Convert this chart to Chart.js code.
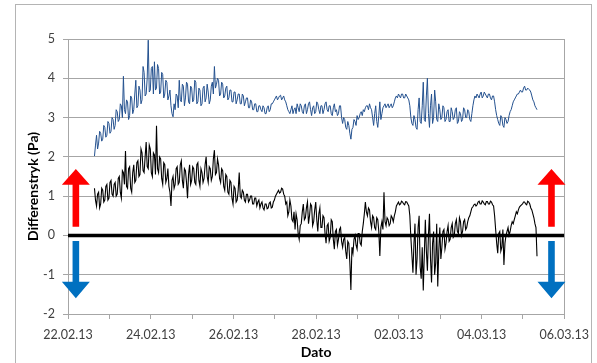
<!DOCTYPE html>
<html>
<head>
<meta charset="utf-8">
<script src="https://cdn.jsdelivr.net/npm/chart.js@4/dist/chart.umd.min.js"></script>
<style>
  html, body { margin: 0; padding: 0; background: #fff; overflow: hidden; }
  #frame { position: absolute; left: 15px; top: 4px; width: 575px; height: 380px; border: 1px solid #b4b4b4; }
  #wrap { position: absolute; left: 0; top: 0; width: 597px; height: 363px; }
</style>
</head>
<body>
<div id="frame"></div>
<div id="wrap"><canvas id="c" width="597" height="363"></canvas></div>
<script>
// Time axis: days since 22.02.13 00:00, regular sampling interval
const xStart = 0.64;
const xStep = 0.025;
const tickLabels = ['22.02.13','24.02.13','26.02.13','28.02.13','02.03.13','04.03.13','06.03.13'];
const xTitle = 'Dato';
const yTitle = 'Differenstryk (Pa)';

// Upper (blue) series values
const blueValues = [
  2.02,2.3, 2.55,2.2, 2.35,2.65, 2.6,2.4, 2.45,2.8, 2.75,2.5, 2.55,2.9, 2.85,2.6, 2.65,3.0, 2.95,2.7,
  2.8,3.2, 3.15,2.9, 2.95,3.35, 3.3,3.0, 4.05,3.2, 3.1,3.45, 3.4,2.95, 3.05,3.55, 3.5,3.1, 3.2,3.6,
  3.95,3.25, 3.3,3.8, 3.7,3.35, 3.45,4.3, 4.15,3.55, 3.6,4.0, 4.97,3.65, 3.7,4.25, 4.3,3.6, 4.42,3.7,
  3.75,4.35, 4.25,3.6, 3.65,4.15, 4.1,3.5, 3.6,3.95, 3.9,3.45, 3.55,3.7, 3.3,3.1, 3.02,3.35, 3.2,3.6,
  3.55,3.25, 3.95,3.45, 3.4,3.85, 3.8,3.3, 3.5,3.9, 3.85,3.4, 3.35,3.8, 3.75,3.4, 3.45,3.95, 3.9,3.35,
  3.4,3.75, 3.7,3.3, 3.35,3.75, 3.8,3.4, 3.5,3.85, 3.65,3.35, 3.45,3.8, 3.9,3.6, 4.3,3.75, 3.85,4.0,
  3.95,3.55, 3.6,3.9, 3.85,3.5, 3.55,3.75, 3.8,3.45, 3.5,3.7, 3.7,3.4, 3.4,3.65, 3.65,3.35, 3.45,3.6,
  3.6,3.35, 3.35,3.6, 3.55,3.3, 3.4,3.5, 3.5,3.25, 3.25,3.45, 3.4,3.2, 3.2,3.35, 3.35,3.15, 3.15,3.3,
  3.3,3.2, 3.15,3.3, 3.25,3.1, 3.1,3.25, 3.3,3.15, 3.2,3.35, 3.35,3.4, 3.45,3.5, 3.55,3.45, 3.5,3.55,
  3.57,3.45, 3.5,3.55, 3.45,3.4, 3.3,3.2, 3.15,3.1, 3.2,3.3, 3.1,3.2, 3.25,3.1, 3.35,3.25, 3.15,3.35,
  3.3,3.15, 3.1,3.3, 3.35,3.1, 3.2,3.35, 3.4,3.2, 3.05,3.25, 3.3,3.1, 3.15,3.4, 3.35,3.2, 3.1,3.3,
  3.3,3.1, 3.2,3.35, 3.4,3.2, 3.15,3.3, 3.3,3.1, 3.05,3.25, 3.35,3.15, 3.2,3.05, 3.1,3.3, 3.3,3.0,
  2.85,3.0, 2.95,2.75, 2.7,2.9, 2.8,2.6, 2.45,2.7, 2.75,2.95, 2.9,2.8, 3.05,2.95, 3.0,3.1, 3.15,3.05,
  3.2,3.15, 3.25,3.3, 3.3,3.2, 3.35,3.25, 3.2,3.0, 2.8,3.1, 3.3,2.9, 2.75,3.05, 3.4,2.95, 3.1,3.25,
  3.3,3.35, 3.25,3.3, 3.35,3.25, 3.3,3.35, 3.25,3.3, 3.4,3.5, 3.55,3.5, 3.6,3.55, 3.5,3.6, 3.6,3.5,
  3.5,3.6, 3.55,3.5, 3.45,3.3, 3.0,2.85, 2.8,3.05, 2.95,2.75, 2.7,3.2, 3.5,2.9, 2.85,3.3, 3.9,2.95,
  2.9,3.55, 4.0,3.1, 2.75,3.3, 3.6,2.85, 3.0,3.7, 3.4,2.95, 2.9,3.35, 3.2,2.95, 3.0,3.3, 3.25,2.9,
  2.95,3.15, 3.2,2.9, 2.9,3.25, 3.15,2.95, 3.0,3.2, 3.25,2.85, 2.9,3.15, 3.1,2.9, 2.95,3.25, 3.2,3.0,
  3.0,3.2, 3.15,2.95, 2.9,3.1, 3.3,3.45, 3.55,3.5, 3.6,3.55, 3.5,3.6, 3.65,3.5, 3.55,3.65, 3.6,3.55,
  3.5,3.6, 3.6,3.5, 3.45,3.55, 3.55,3.4, 3.2,3.05, 2.95,2.85, 2.8,3.05, 3.0,2.8, 2.75,3.0, 2.95,2.85,
  2.9,3.05, 3.15,3.2, 3.3,3.4, 3.45,3.5, 3.55,3.6, 3.6,3.65, 3.7,3.65, 3.65,3.75, 3.8,3.7, 3.7,3.75,
  3.72,3.7, 3.65,3.55, 3.45,3.4, 3.3,3.25, 3.2
];

// Lower (black) series values
const blackValues = [
  1.2,0.9, 0.75,1.05, 1.1,0.7, 0.8,1.2, 1.15,0.85, 0.9,1.25, 1.3,0.9, 0.95,1.35, 1.4,1.05, 1.0,1.3,
  1.35,1.0, 1.05,1.45, 1.5,1.1, 0.95,1.65, 1.6,1.3, 2.15,1.25, 1.2,1.7, 1.75,1.2, 1.1,1.6, 1.8,1.35,
  1.4,1.85, 1.9,1.5, 1.55,2.2, 2.1,1.65, 1.6,2.0, 2.38,1.75, 1.7,2.3, 2.2,1.6, 1.5,2.1, 2.05,1.55,
  2.79,1.7, 1.6,2.0, 1.95,1.45, 1.3,1.85, 1.8,1.35, 1.45,1.7, 1.25,1.1, 0.75,1.4, 1.5,1.2, 1.3,1.7,
  1.75,1.3, 1.35,1.8, 1.9,1.4, 1.2,1.7, 1.65,1.35, 0.95,1.55, 1.8,1.3, 1.4,1.75, 1.7,1.35, 1.3,1.8,
  1.85,1.4, 1.25,1.7, 1.6,1.35, 1.45,1.8, 2.0,1.5, 1.35,1.75, 1.7,1.4, 1.5,1.95, 2.17,1.55, 1.6,1.95,
  1.8,1.45, 1.35,1.7, 1.65,1.25, 1.15,1.55, 1.5,1.1, 1.05,1.4, 1.35,0.95, 0.8,1.25, 1.2,0.85, 0.9,1.15,
  1.6,1.0, 0.95,1.15, 1.1,0.9, 0.85,1.05, 1.05,0.85, 0.9,1.0, 1.0,0.8, 0.8,0.95, 0.95,0.75, 0.85,0.9,
  0.7,0.8, 0.85,0.7, 0.65,0.8, 0.8,0.68, 0.7,0.82, 0.85,0.7, 0.72,0.85, 0.9,1.0, 1.05,1.1, 1.15,1.08,
  1.1,1.2, 1.18,1.05, 1.0,0.8, 0.85,0.5, 0.6,0.9, 0.75,0.4, 0.35,0.6, 0.15,0.55, 0.4,0.05, -0.1,0.25,
  0.3,0.6, 0.8,0.4, 0.45,0.7, 0.85,0.3, 0.5,0.8, 0.75,0.25, 0.35,0.65, 0.85,0.4, 0.1,0.55, 0.7,0.2,
  0.2,0.5, 0.45,0.05, -0.2,0.25, 0.3,-0.15, -0.05,0.4, 0.35,-0.1, -0.35,0.1, 0.15,-0.25, -0.1,0.15, 0.2,-0.15,
  -0.3,-0.1, -0.05,-0.4, -0.6,-0.15, -0.2,-0.7, -1.39,-0.3, -0.45,-0.1, 0.0,-0.25, -0.35,0.05, 0.05,-0.2, -0.25,0.1,
  0.3,0.55, 0.85,0.6, 0.5,0.7, 0.65,0.35, 0.2,0.5, 0.45,0.2, 0.15,0.45, 0.4,0.1, -0.52,0.2, 0.35,0.15,
  1.1,0.35, 0.25,0.45, 0.4,0.25, 0.3,0.5, 0.45,0.35, 0.5,0.6, 0.75,0.8, 0.85,0.78, 0.8,0.87, 0.85,0.8,
  0.78,0.86, 0.85,0.8, 0.75,0.5, -0.05,-0.5, -0.95,-0.2, 0.3,-1.0, -0.6,0.2, 0.5,-0.8, -1.1,-0.3, -1.4,-0.5,
  0.4,-0.4, -0.9,0.0, 0.55,-0.6, -1.2,-0.2, 0.1,-1.0, -0.7,0.3, -1.3,-0.4, 0.2,-0.6, -0.3,0.1, 0.15,-0.35,
  -0.2,0.1, 0.25,-0.15, -0.1,0.2, 0.3,-0.05, 0.0,0.3, 0.4,0.1, 0.05,0.45, 0.35,0.0, 0.1,0.35, 0.4,0.15,
  0.2,0.35, 0.45,0.5, 0.6,0.7, 0.73,0.78, 0.8,0.75, 0.78,0.85, 0.87,0.8, 0.8,0.88, 0.85,0.8, 0.78,0.86,
  0.86,0.8, 0.8,0.87, 0.85,0.78, 0.75,0.5, 0.15,-0.2, -0.45,0.05, 0.1,-0.4, -0.3,0.15, -0.75,-0.2, 0.0,0.1,
  0.2,0.0, 0.1,0.25, 0.35,0.3, 0.4,0.5, 0.6,0.55, 0.65,0.72, 0.75,0.78, 0.8,0.85, 0.85,0.8, 0.78,0.87,
  0.85,0.8, 0.7,0.65, 0.55,0.45, 0.3,0.2, -0.53
];

// Arrow annotations (x in days, y in Pa)
const arrowX = [0.19, 11.69];
const upArrowY = { base: 0.22, neck: 1.29, tip: 1.69 };
const downArrowY = { base: -0.14, neck: -1.18, tip: -1.6 };

const toPoints = vals => vals.map((v, i) => ({ x: xStart + i * xStep, y: v }));

const FONT = 'Lato, "Open Sans", sans-serif';
const GRID = '#a6a6a6';

const arrowPlugin = {
  id: 'arrows',
  afterDatasetsDraw(chart) {
    const { ctx, scales: { x, y } } = chart;
    const shaftW = 6.6, headW = 28;
    const drawArrow = (cx, spec, color) => {
      const b = y.getPixelForValue(spec.base), n = y.getPixelForValue(spec.neck), t = y.getPixelForValue(spec.tip);
      ctx.fillStyle = color;
      ctx.beginPath();
      ctx.moveTo(cx - shaftW / 2, b);
      ctx.lineTo(cx - shaftW / 2, n);
      ctx.lineTo(cx - headW / 2, n);
      ctx.lineTo(cx, t);
      ctx.lineTo(cx + headW / 2, n);
      ctx.lineTo(cx + shaftW / 2, n);
      ctx.lineTo(cx + shaftW / 2, b);
      ctx.closePath();
      ctx.fill();
    };
    ctx.save();
    arrowX.forEach(ax => {
      const cx = x.getPixelForValue(ax);
      drawArrow(cx, upArrowY, '#ff0000');
      drawArrow(cx, downArrowY, '#0070c0');
    });
    // y axis title
    const ca = chart.chartArea;
    ctx.fillStyle = '#000';
    ctx.font = 'bold 14px ' + FONT;
    ctx.textAlign = 'center';
    ctx.textBaseline = 'middle';
    ctx.translate(33, (ca.top + ca.bottom) / 2 + 10);
    ctx.rotate(-Math.PI / 2);
    ctx.fillText(yTitle, 0, 0);
    ctx.restore();
  }
};

new Chart(document.getElementById('c'), {
  type: 'line',
  data: {
    datasets: [
      { data: [{ x: 0, y: 0 }, { x: 12, y: 0 }], borderColor: '#000', borderWidth: 3.5, pointRadius: 0 },
      { data: toPoints(blackValues), borderColor: '#000000', borderWidth: 1.1, pointRadius: 0 },
      { data: toPoints(blueValues), borderColor: '#24518f', borderWidth: 1, pointRadius: 0 }
    ]
  },
  options: {
    responsive: false,
    animation: false,
    layout: { padding: { left: 20, right: 21, top: 39, bottom: 2 } },
    plugins: { legend: { display: false }, tooltip: { enabled: false } },
    scales: {
      x: {
        type: 'linear', min: 0, max: 12,
        afterFit: s => { s.height = 47; },
        border: { color: GRID, width: 1 },
        grid: {
          drawOnChartArea: true,
          color: c => (c.tick && c.tick.value === 12) ? GRID : 'rgba(0,0,0,0)',
          tickColor: GRID, tickLength: 5
        },
        ticks: {
          stepSize: 1, autoSkip: false, maxRotation: 0, padding: 8,
          color: '#404040', font: { family: FONT, size: 12.5 },
          callback: v => (v % 2 === 0 ? tickLabels[v / 2] : '')
        },
        title: { display: true, text: xTitle, color: '#000', font: { family: FONT, size: 14, weight: 'bold' }, padding: { top: 2, bottom: 0 } }
      },
      y: {
        min: -2, max: 5,
        afterFit: s => { s.width = 48; },
        border: { color: GRID, width: 1 },
        grid: { color: GRID, tickColor: GRID, tickLength: 5 },
        ticks: { stepSize: 1, padding: 8, color: '#404040', font: { family: FONT, size: 12.5 } }
      }
    }
  },
  plugins: [arrowPlugin]
});
</script>
</body>
</html>
